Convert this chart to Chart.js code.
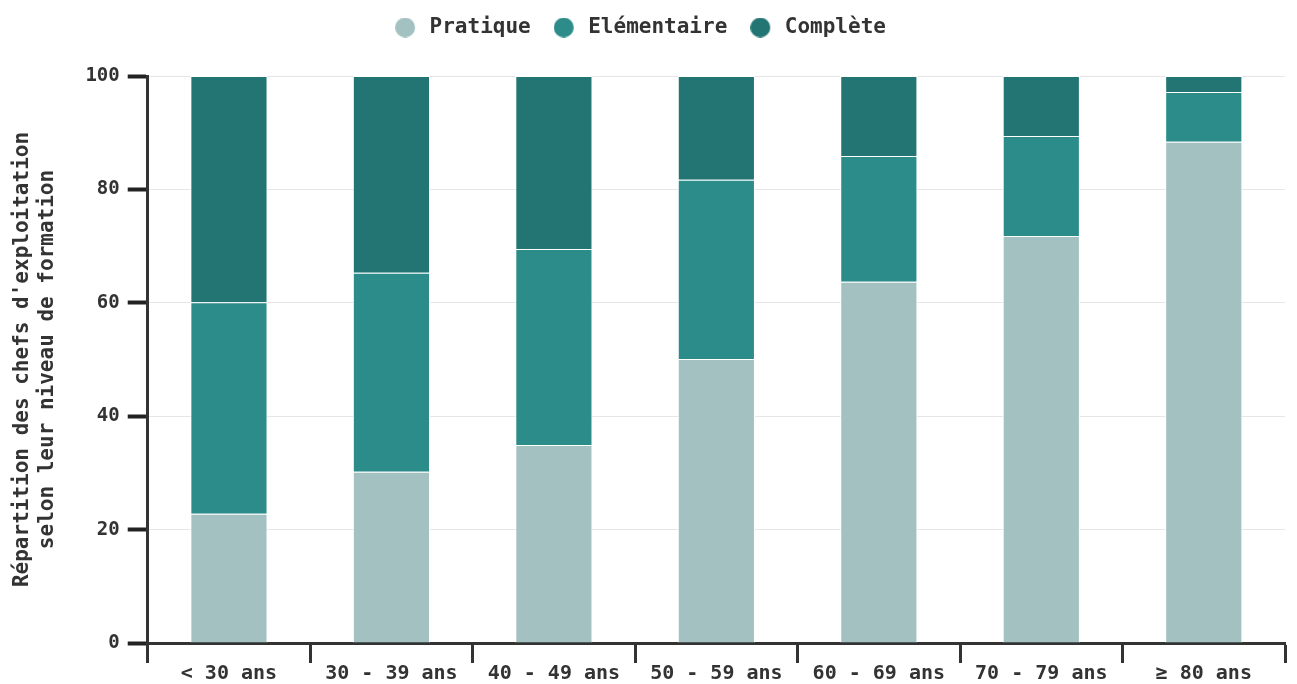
<!DOCTYPE html>
<html>
<head>
<meta charset="utf-8">
<script src="https://cdn.jsdelivr.net/npm/chart.js@4/dist/chart.umd.min.js"></script>
<style>
  html, body { margin: 0; padding: 0; background: #fff; }
  #wrap { width: 1297px; height: 684px; }
</style>
</head>
<body>
<div id="wrap"><canvas id="chart" width="1297" height="684"></canvas></div>
<script>
// categories (age groups)
const ages = ["< 30 ans", "30 - 39 ans", "40 - 49 ans", "50 - 59 ans", "60 - 69 ans", "70 - 79 ans", "≥ 80 ans"];

// % share per training level
const pratique    = [22.8, 30.2, 34.9, 50.1, 63.7, 71.8, 88.4];
const elementaire = [37.3, 35.1, 34.6, 31.6, 22.2, 17.6,  8.8];
const complete    = [39.9, 34.7, 30.5, 18.3, 14.1, 10.6,  2.8];

const seriesNames = ["Pratique", "Elémentaire", "Complète"];
const seriesColors = ["#a3c1c0", "#2b8c8a", "#227572"];

const yTicks = [0, 20, 40, 60, 80, 100];

const FONT = "'DejaVu Sans Mono', monospace";
const TXT = "#333";

Chart.defaults.font.family = FONT;
Chart.defaults.font.weight = "bold";
Chart.defaults.font.size = 19;
Chart.defaults.color = TXT;

function ds(label, data, color) {
  return {
    label, data,
    backgroundColor: color,
    borderColor: "#fff",
    borderWidth: 1,
    barPercentage: 0.95,
    categoryPercentage: 0.5
  };
}

// legend dot drawn a bit to the left so there is more room before the text
function makeDot(color) {
  const c = document.createElement("canvas");
  c.width = 34; c.height = 20;
  const g = c.getContext("2d");
  g.fillStyle = color;
  g.beginPath();
  g.arc(10, 10, 10, 0, Math.PI * 2);
  g.fill();
  return c;
}
const dots = seriesColors.map(makeDot);

// extra space between legend and plot
const legendGap = {
  id: "legendGap",
  beforeInit(chart) {
    const fit = chart.legend.fit;
    chart.legend.fit = function () {
      fit.bind(chart.legend)();
      this.height += 28;
    };
  }
};

new Chart(document.getElementById("chart"), {
  type: "bar",
  data: {
    labels: ages,
    datasets: [
      ds(seriesNames[0], pratique, seriesColors[0]),
      ds(seriesNames[1], elementaire, seriesColors[1]),
      ds(seriesNames[2], complete, seriesColors[2])
    ]
  },
  options: {
    responsive: false,
    animation: false,
    layout: { padding: { left: 6, right: 12, top: -16, bottom: -1 } },
    plugins: {
      legend: {
        position: "top",
        labels: {
          usePointStyle: true,
          boxWidth: 14,
          boxHeight: 14,
          padding: 33,
          font: { size: 21, weight: "bold", family: FONT },
          color: TXT,
          generateLabels(chart) {
            const items = Chart.defaults.plugins.legend.labels.generateLabels(chart);
            items.forEach((it, i) => { it.pointStyle = dots[i]; });
            return items;
          }
        }
      },
      tooltip: { enabled: false }
    },
    scales: {
      x: {
        stacked: true,
        grid: {
          drawOnChartArea: false,
          tickLength: 20,
          tickColor: "#333",
          tickWidth: 3
        },
        border: { display: true, color: "#333", width: 3 },
        ticks: { padding: -1, font: { size: 20 } }
      },
      y: {
        stacked: true,
        min: 0,
        max: 100,
        afterBuildTicks: axis => { axis.ticks = yTicks.map(v => ({ value: v })); },
        grid: {
          color: "#e6e6e6",
          lineWidth: 1,
          tickLength: 20,
          tickColor: "#222",
          tickWidth: 4
        },
        border: { display: true, color: "#333", width: 3 },
        ticks: { padding: 8, font: { size: 19 } },
        title: {
          display: true,
          text: ["Répartition des chefs d'exploitation", "selon leur niveau de formation"],
          font: { size: 21, weight: "bold", family: FONT },
          color: TXT,
          padding: { bottom: 17 }
        }
      }
    }
  },
  plugins: [legendGap]
});
</script>
</body>
</html>
